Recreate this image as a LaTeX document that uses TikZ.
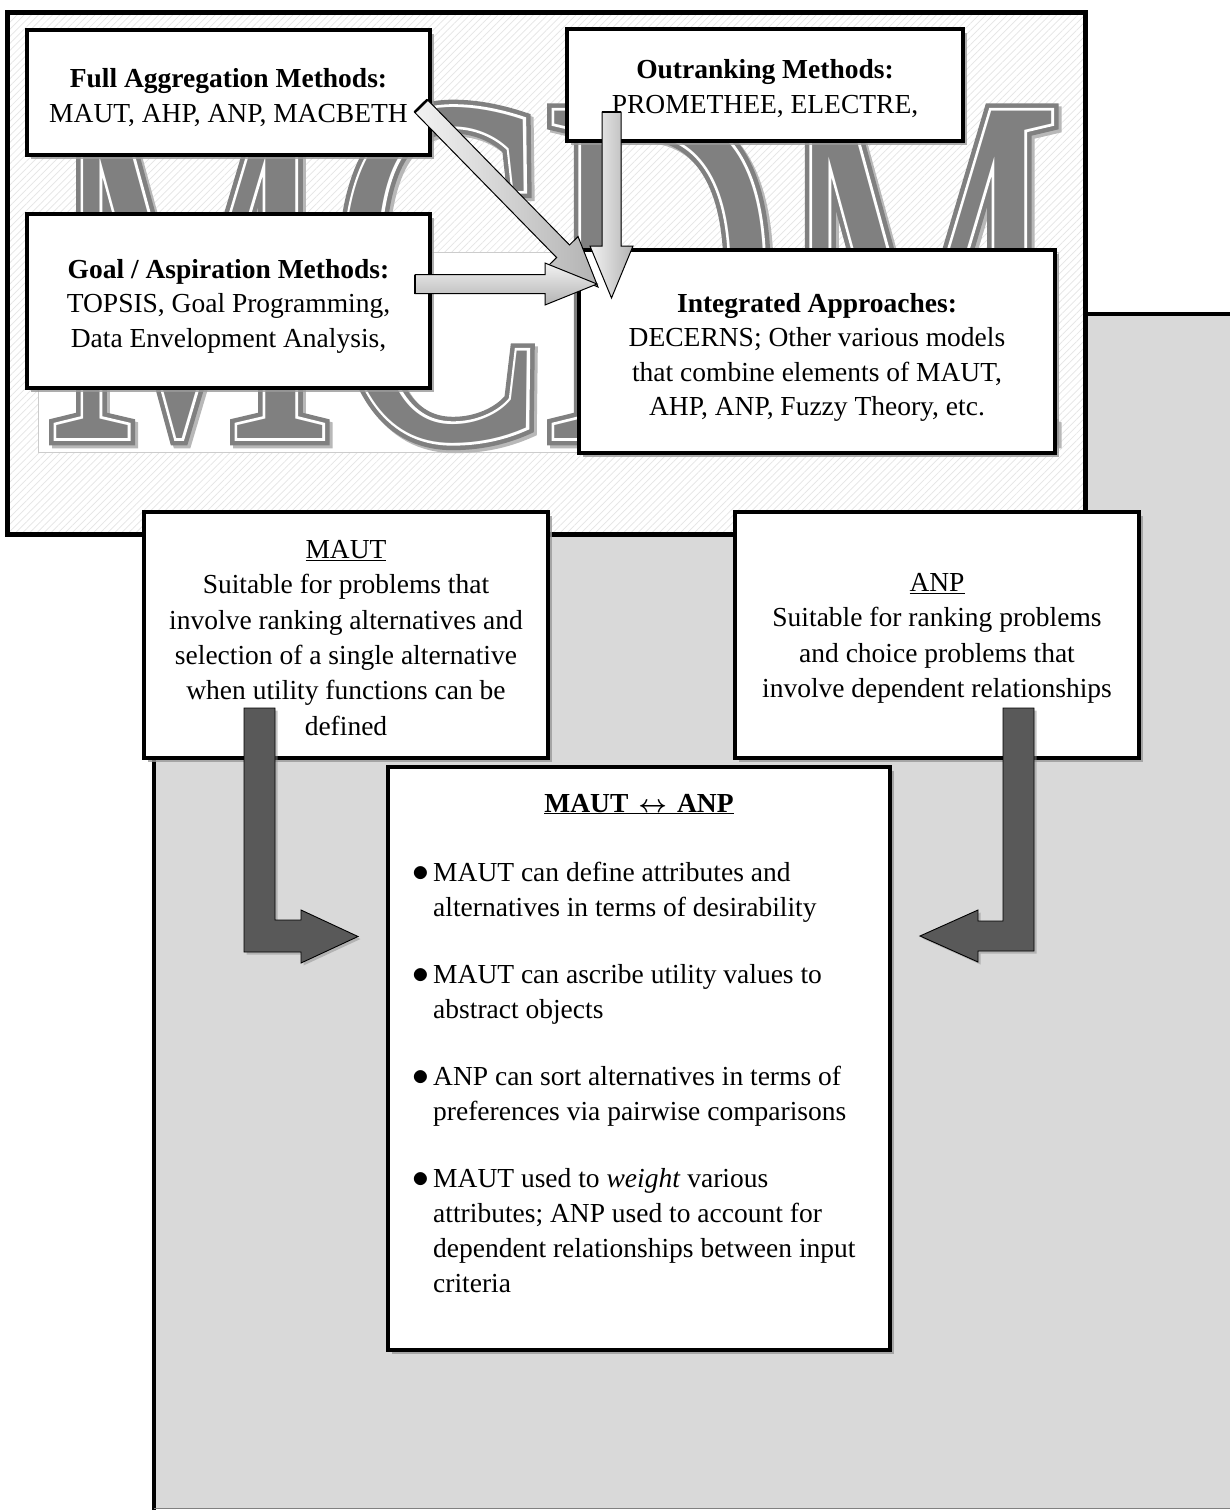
\documentclass[tikz,border=0pt]{standalone}
\usepackage{fontspec}
\usepackage{graphicx}
\setmainfont{Liberation Serif}
% narrow faces for the watermark word: plain core, a wide rim and a thin inline
\newfontfamily\wordcore{Liberation Serif}[FakeStretch=0.64]
\newfontfamily\wordrim{Liberation Serif}[FakeStretch=0.64, FakeBold=2.9]
\newfontfamily\wordinline{Liberation Serif}[FakeStretch=0.64, FakeBold=1.1]
\usetikzlibrary{calc,patterns.meta,shadows}

\definecolor{panelgray}{HTML}{D9D9D9}
\definecolor{wordgray}{HTML}{808080}
\definecolor{darkarrow}{HTML}{595959}

% the large watermark word behind the method boxes, in a given font family
\newcommand\mcdmword[1]{#1\fontsize{500}{500}\selectfont MCDM}
% extra room above the first line of a box text
\newcommand\topgap[1]{\rule{0pt}{#1}}
% list bullet
\newcommand\itembullet{\makebox[17pt][l]{\hspace{-4pt}\scalebox{1.35}{$\bullet$}}}

% straight block arrow: tail, tip, shaft half-width, head half-width, head length, extra style
\newcommand\blockarrow[6]{%
  \coordinate (hb) at ($(#2)!#5!(#1)$);
  \draw[litearrow,#6] ($(#1)!#3!90:(#2)$) -- ($(hb)!#3!90:(#2)$) -- ($(hb)!#4!90:(#2)$) -- (#2)
     -- ($(hb)!#4!-90:(#2)$) -- ($(hb)!#3!-90:(#2)$) -- ($(#1)!#3!-90:(#2)$) -- cycle;
  \draw[line width=2.6pt] ($(#1)!#3!90:(#2)$) -- ($(#1)!#3!-90:(#2)$);
}

\tikzset{
  box/.style={draw=black, line width=4.5pt, fill=white, inner sep=0pt, align=center,
    drop shadow={shadow xshift=3.5pt, shadow yshift=-3.5pt, fill=black!40, opacity=.8}},
  topfont/.style={font=\fontsize{27.5}{34.5}\selectfont},
  midfont/.style={font=\fontsize{27.5}{35.4}\selectfont},
  litearrow/.style={draw=black, line width=1pt, left color=black!5, right color=black!30},
  bentarrow/.style={fill=darkarrow, draw=black, line width=0.9pt,
    drop shadow={shadow xshift=2.5pt, shadow yshift=-2.5pt, fill=black!45, opacity=.5}},
  word/.style={inner sep=0pt, anchor=base west},
}

\begin{document}
\begin{tikzpicture}[x=1pt,y=-1pt]
\useasboundingbox (0,0) rectangle (1229,1510);

% grey back panel
\fill[panelgray] (154,314) rectangle (1240,1508);
\draw[line width=4.5pt] (154,1515) -- (154,314) -- (1240,314);
\draw[black!50, line width=1.2pt] (154,1508.6) -- (1240,1508.6);

% hatched MCDM panel
\path[fill=white] (7.5,12.5) rectangle (1085.5,534.5);
\path[pattern={Lines[angle=45,distance=5pt,line width=0.7pt]}, pattern color=black!10]
  (7.5,12.5) rectangle (1085.5,534.5);
\path[fill=white, draw=black!20, line width=0.6pt] (38,252) rectangle (1058,452);
\draw[line width=5pt] (7.5,12.5) rectangle (1085.5,534.5);

% watermark: soft shadow, grey rim, white inline, grey core
\coordinate (mcdmorg) at (47,438);
\node[word, text=black!28] (mcdmshadow) at ($(mcdmorg)+(3,3)$) {\mcdmword{\wordrim}};
\node[word, text=wordgray] (mcdmrim) at (mcdmorg) {\mcdmword{\wordrim}};
\node[word, text=white] (mcdminline) at (mcdmorg) {\mcdmword{\wordinline}};
\node[word, text=wordgray] (mcdm) at (mcdmorg) {\mcdmword{\wordcore}};

% method families
\node[box, topfont, minimum width=403pt, minimum height=125pt] (fam) at (228.5,92.5)
  {\topgap{29pt}\textbf{Full Aggregation Methods:}\\MAUT, AHP, ANP, MACBETH};
\node[box, topfont, minimum width=396pt, minimum height=112pt] (out) at (765,85)
  {\topgap{26pt}\textbf{Outranking Methods:}\\PROMETHEE, ELECTRE,};
\node[box, topfont, minimum width=403pt, minimum height=174pt] (goal) at (228.5,301)
  {\topgap{29pt}\textbf{Goal / Aspiration Methods:}\\TOPSIS, Goal Programming,\\Data Envelopment Analysis,};
\node[box, topfont, minimum width=476pt, minimum height=203pt] (integ) at (817,351.5)
  {\topgap{31pt}\textbf{Integrated Approaches:}\\DECERNS; Other various models\\that combine elements of MAUT,\\AHP, ANP, Fuzzy Theory, etc.};

% light block arrows into the integrated approaches
\coordinate (vtail) at (611.5,112);  \coordinate (vtip) at (611.5,298);
\coordinate (dtail) at (421,106);    \coordinate (dtip) at (598,287);
\coordinate (htail) at (415,284);    \coordinate (htip) at (597,284);
\blockarrow{vtail}{vtip}{9.5pt}{21.5pt}{52pt}{}
\blockarrow{dtail}{dtip}{9pt}{21pt}{50pt}{}
\blockarrow{htail}{htip}{9.5pt}{21pt}{52pt}{top color=black!5, bottom color=black!30}

% method descriptions
\node[box, midfont, minimum width=404pt, minimum height=246pt] (maut) at (346,635)
  {\topgap{24pt}\underline{MAUT}\\Suitable for problems that\\involve ranking alternatives and\\selection of a single alternative\\when utility functions can be\\defined};
\node[box, midfont, minimum width=404pt, minimum height=246pt] (anp) at (937,635)
  {\topgap{25pt}\underline{ANP}\\Suitable for ranking problems\\and choice problems that\\involve dependent relationships};

\node[box, minimum width=502pt, minimum height=583pt] (cmp) at (639,1058.5) {};
\node[anchor=base, inner sep=0pt, font=\fontsize{27.5}{35}\selectfont] (cmptitle) at (639,812)
  {\textbf{\boldmath\underline{MAUT\hspace{10pt}$\leftrightarrow$\hspace{10pt}ANP}}};
\node[anchor=north west, inner sep=0pt, font=\fontsize{27.5}{35}\selectfont] (cmplist) at (416,856.5) {%
\begin{tabular}{@{}l@{}l@{}}
\itembullet & MAUT can define attributes and\\
 & alternatives in terms of desirability\\[32pt]
\itembullet & MAUT can ascribe utility values to\\
 & abstract objects\\[32pt]
\itembullet & ANP can sort alternatives in terms of\\
 & preferences via pairwise comparisons\\[32pt]
\itembullet & MAUT used to \textit{weight} various\\
 & attributes; ANP used to account for\\
 & dependent relationships between input\\
 & criteria
\end{tabular}};

% dark bent arrows into the comparison box
\draw[bentarrow] (244,708) -- (275,708) -- (275,920) -- (301,920) -- (301,910) -- (358,936.5)
  -- (301,963) -- (301,952) -- (244,952) -- cycle;
\draw[bentarrow] (1003,708) -- (1034,708) -- (1034,951) -- (978,951) -- (978,962) -- (920,936)
  -- (978,910) -- (978,921) -- (1003,921) -- cycle;
\end{tikzpicture}
\end{document}
